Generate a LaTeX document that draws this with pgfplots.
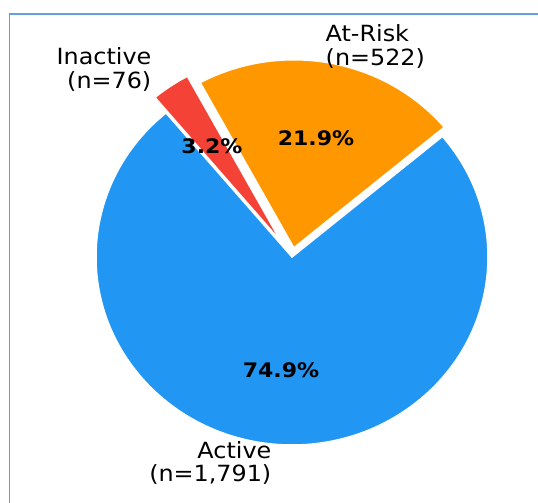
\documentclass[border=0pt]{standalone}
\usepackage{pgfplots}
\pgfplotsset{compat=1.18}
\usepackage{fontspec}
\setmainfont{DejaVu Sans}
\newfontfamily\labfont[FakeStretch=1.07]{DejaVu Sans}
\newfontfamily\pctfont[FakeStretch=1.1]{DejaVu Sans}
\definecolor{cblue}{HTML}{2196F3}
\definecolor{corange}{HTML}{FF9800}
\definecolor{cred}{HTML}{F44336}
\definecolor{cframe}{RGB}{100,160,220}
\begin{document}
\begin{tikzpicture}
% data
\def\vA{1791}\def\vB{522}\def\vC{76}
\pgfmathsetmacro\tot{\vA+\vB+\vC}
\pgfmathsetmacro\aA{\vA/\tot*360}
\pgfmathsetmacro\aB{\vB/\tot*360}
\pgfmathsetmacro\aC{\vC/\tot*360}
\def\st{130}
\pgfmathsetmacro\sB{\st+\aA}
\pgfmathsetmacro\sC{\sB+\aB}
\pgfmathsetmacro\mB{\sB+\aB/2}
\pgfmathsetmacro\mC{\sC+\aC/2}
\pgfmathsetmacro\oBx{0.05*196*cos(\mB)}
\pgfmathsetmacro\oBy{0.05*188*sin(\mB)}
\pgfmathsetmacro\oCx{0.10*196*cos(\mC)}
\pgfmathsetmacro\oCy{0.10*188*sin(\mC)}
\begin{axis}[x=1bp,y=1bp,xmin=0,xmax=538,ymin=0,ymax=503,
  hide axis, scale only axis, clip=false]
% Active
\fill[cblue, draw=white, line width=1.5bp, line join=miter]
  (axis cs:292,246) -- ++(\st:196bp and 188bp)
  arc[start angle=\st, delta angle=\aA, x radius=196bp, y radius=188bp] -- cycle;
% At-Risk
\fill[corange, draw=white, line width=1.5bp, line join=miter]
  (axis cs:292,246) ++(\oBx bp,\oBy bp) -- ++(\sB:196bp and 188bp)
  arc[start angle=\sB, delta angle=\aB, x radius=196bp, y radius=188bp] -- cycle;
% Inactive
\fill[cred, draw=white, line width=1.5bp, line join=miter]
  (axis cs:292,246) ++(\oCx bp,\oCy bp) -- ++(\sC:196bp and 188bp)
  arc[start angle=\sC, delta angle=\aC, x radius=196bp, y radius=188bp] -- cycle;
% labels
\node[anchor=base east, inner sep=0] at (axis cs:151.5,438) {\labfont\fontsize{22.3bp}{26bp}\selectfont Inactive};
\node[anchor=base east, inner sep=0] at (axis cs:151.5,414.5) {\labfont\fontsize{22.3bp}{26bp}\selectfont (n=76)};
\node[anchor=base west, inner sep=0] at (axis cs:325.5,461.3) {\labfont\fontsize{22.3bp}{26bp}\selectfont At-Risk};
\node[anchor=base west, inner sep=0] at (axis cs:325.5,437) {\labfont\fontsize{22.3bp}{26bp}\selectfont (n=522)};
\node[anchor=base east, inner sep=0] at (axis cs:271.5,44.7) {\labfont\fontsize{22.3bp}{26bp}\selectfont Active};
\node[anchor=base east, inner sep=0] at (axis cs:271.5,21.3) {\labfont\fontsize{22.3bp}{26bp}\selectfont (n=1,791)};
% percentages
\node[anchor=base, inner sep=0] at (axis cs:212,349.7) {\pctfont\bfseries\fontsize{20bp}{24bp}\selectfont 3.2\%};
\node[anchor=base, inner sep=0] at (axis cs:316,357.5) {\pctfont\bfseries\fontsize{20bp}{24bp}\selectfont 21.9\%};
\node[anchor=base, inner sep=0] at (axis cs:281,125.7) {\pctfont\bfseries\fontsize{20bp}{24bp}\selectfont 74.9\%};
% frame
\draw[cframe, line width=1.3bp] (axis cs:9.5,0) -- (axis cs:9.5,489) -- (axis cs:538,489);
\end{axis}
\pgfresetboundingbox
\path (0,0) rectangle (538bp,503bp);
\end{tikzpicture}
\end{document}
